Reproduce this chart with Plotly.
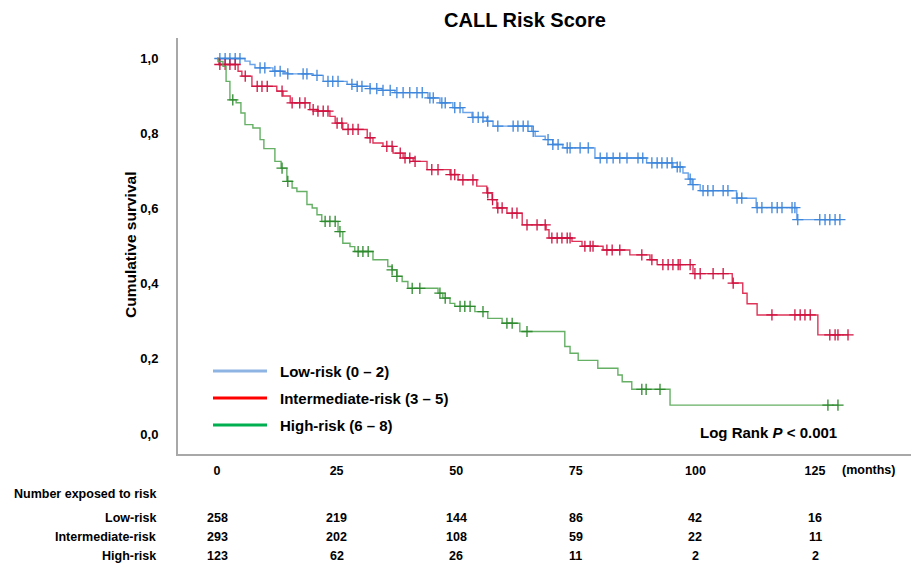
import numpy as np
import plotly.graph_objects as go

# ---------------- data ----------------
months_ticks = [0, 25, 50, 75, 100, 125]
y_ticks = [0.0, 0.2, 0.4, 0.6, 0.8, 1.0]
y_tick_text = ["0,0", "0,2", "0,4", "0,6", "0,8", "1,0"]

# Low-risk (0-2): step times (months) and survival after each step
low_t = [0, 5.85, 6.9, 7.94, 11.7, 13.8, 14.8, 20.1, 22.2, 27.2, 29.3, 32.0, 34.5, 37.2,
         44.1, 46.6, 49.3, 51.4, 53.3, 56.4, 57.7, 65.8, 66.5, 68.6, 70.2, 72.3, 79.0,
         89.8, 95.3, 97.4, 98.5, 99.3, 101.0, 108.6, 112.7, 121.2]
low_s = [1.0, 0.993, 0.984, 0.975, 0.966, 0.962, 0.959, 0.955, 0.939, 0.931, 0.926, 0.92, 0.915, 0.909,
         0.895, 0.882, 0.869, 0.856, 0.843, 0.833, 0.82, 0.806, 0.793, 0.784, 0.771, 0.762, 0.735,
         0.722, 0.711, 0.695, 0.679, 0.664, 0.648, 0.628, 0.603, 0.571]
low_end = 130.2
low_cens = [0.6, 1.7, 2.7, 3.8, 4.8, 9.0, 10.0, 12.1, 13.2, 14.8, 18.0, 18.8, 20.9, 23.2, 24.2, 25.3,
            28.2, 29.3, 30.3, 32.0, 33.4, 34.7, 36.2, 37.6, 38.9, 40.3, 41.8, 42.9, 44.5, 45.2, 47.0,
            47.7, 49.7, 50.8, 53.5, 54.6, 55.6, 56.6, 58.7, 61.9, 62.9, 64.0, 65.0, 66.1, 69.2, 70.2,
            71.3, 73.2, 73.8, 75.9, 77.6, 80.1, 81.5, 82.8, 84.2, 85.7, 88.0, 89.0, 90.9, 92.0, 93.0,
            94.1, 95.1, 96.2, 96.8, 98.9, 99.5, 101.6, 102.6, 103.7, 105.8, 106.8, 108.7, 109.7,
            112.9, 113.9, 116.0, 117.1, 118.1, 120.2, 120.8, 121.4, 126.0, 127.1, 128.1, 129.2, 130.2]

# Intermediate-risk (3-5)
int_t = [0, 0.4, 4.4, 5.2, 7.3, 12.5, 13.8, 15.3, 19.4, 20.9, 23.6, 24.7, 26.3, 31.4, 32.6, 34.7,
         36.8, 38.9, 41.0, 43.9, 48.7, 50.4, 54.3, 56.4, 57.5, 58.5, 60.6, 63.8, 68.8, 69.4, 74.2,
         76.3, 80.7, 86.3, 90.5, 92.0, 99.5, 107.7, 109.9, 110.8, 112.9, 125.6]
int_s = [1.0, 0.984, 0.966, 0.953, 0.926, 0.913, 0.9, 0.882, 0.864, 0.86, 0.846, 0.828, 0.811, 0.789,
         0.775, 0.766, 0.748, 0.735, 0.726, 0.704, 0.691, 0.677, 0.66, 0.642, 0.624, 0.602, 0.588,
         0.557, 0.544, 0.522, 0.513, 0.5, 0.49, 0.477, 0.464, 0.451, 0.427, 0.402, 0.375, 0.347,
         0.317, 0.264]
int_end = 131.9
int_cens = [0.6, 1.7, 2.7, 3.8, 5.9, 8.4, 9.4, 10.5, 13.6, 15.7, 17.3, 18.4, 20.1, 21.1, 22.2, 23.2,
            25.1, 26.1, 27.4, 28.4, 29.5, 32.0, 35.5, 36.6, 38.3, 39.3, 40.3, 41.4, 44.9, 46.2, 48.9,
            49.7, 51.4, 53.5, 56.6, 57.6, 58.7, 59.6, 61.7, 62.7, 64.8, 66.9, 68.6, 70.0, 71.1, 72.1,
            73.2, 73.8, 76.9, 78.0, 78.6, 81.5, 82.6, 84.2, 88.8, 90.9, 93.2, 94.3, 95.3, 96.4, 96.8,
            98.9, 99.9, 101.0, 103.7, 105.8, 107.9, 116.0, 120.8, 121.9, 122.9, 124.0, 128.1, 129.2,
            129.8, 131.9]

# High-risk (6-8)
high_t = [0, 0.2, 1.25, 1.9, 2.7, 4.0, 5.0, 5.85, 7.5, 9.0, 9.8, 12.1, 13.4, 14.6, 15.7, 16.7, 18.8,
          19.9, 20.9, 21.9, 25.3, 26.3, 27.8, 28.8, 32.6, 35.7, 36.6, 37.6, 38.7, 39.9, 46.2, 47.2,
          48.7, 49.7, 53.9, 56.6, 59.6, 63.3, 72.7, 73.8, 75.5, 79.6, 83.8, 84.7, 86.7, 94.7]
high_s = [1.0, 0.992, 0.979, 0.939, 0.89, 0.882, 0.855, 0.824, 0.815, 0.784, 0.76, 0.726, 0.708,
          0.673, 0.655, 0.646, 0.611, 0.602, 0.584, 0.566, 0.539, 0.508, 0.499, 0.486, 0.464, 0.446,
          0.437, 0.42, 0.406, 0.388, 0.375, 0.362, 0.348, 0.34, 0.326, 0.308, 0.295, 0.273, 0.233,
          0.215, 0.196, 0.175, 0.157, 0.139, 0.119, 0.077]
high_end = 129.8
high_cens = [3.3, 13.6, 14.8, 22.6, 23.6, 24.7, 25.7, 29.5, 30.5, 31.6, 36.6, 37.6, 40.8, 42.4,
             46.6, 47.7, 50.8, 51.8, 52.9, 55.6, 60.6, 61.7, 64.8, 88.8, 89.7, 92.6, 127.7, 129.8]

# Number at risk table
risk_groups = ["Low-risk", "Intermediate-risk", "High-risk"]
risk_low = [258, 219, 144, 86, 42, 16]
risk_int = [293, 202, 108, 59, 22, 11]
risk_high = [123, 62, 26, 11, 2, 2]

legend_labels = ["Low-risk (0 \u2013 2)", "Intermediate-risk (3 \u2013 5)", "High-risk (6 \u2013 8)"]

# ---------------- styling ----------------
W, H = 911, 564
L, R, T, B = 178, 911, 38, 454          # plot frame in pixels
FONT = "Arial, 'Liberation Sans', Helvetica, sans-serif"

line_cols = ["#5b9be6", "#dc1f47", "#55a855"]
mark_cols = ["#3d86dc", "#cf1240", "#2f8a2f"]
legend_cols = ["#8db4e2", "#ff0000", "#00b050"]


def px_x(px):
    return (px - L) / (R - L)


def px_y(py):
    return (B - py) / (B - T)


fig = go.Figure()

groups = [
    (low_t, low_s, low_end, low_cens),
    (int_t, int_s, int_end, int_cens),
    (high_t, high_s, high_end, high_cens),
]
for i, (t, s, tend, cens) in enumerate(groups):
    xs = list(t) + [tend]
    ys = list(s) + [s[-1]]
    fig.add_trace(go.Scatter(x=xs, y=ys, mode="lines", line=dict(color=line_cols[i], width=1.4, shape="hv"),
                             showlegend=False, hoverinfo="skip", opacity=0.9))
    ta = np.array(t)
    sa = np.array(s)
    idx = np.searchsorted(ta, np.array(cens), side="right") - 1
    cy = sa[idx]
    fig.add_trace(go.Scatter(x=cens, y=cy, mode="markers",
                             marker=dict(symbol="cross-thin", size=8,
                                         line=dict(color=mark_cols[i], width=1.3)),
                             showlegend=False, hoverinfo="skip"))

x_range = [(L - 217) / 4.784, (R - 217) / 4.784]
y_range = [-(B - 434) / 375.5, (434 - T) / 375.5]

fig.update_layout(
    width=W, height=H,
    margin=dict(l=L, r=W - R, t=T, b=H - B),
    paper_bgcolor="white", plot_bgcolor="white",
    showlegend=False,
    font=dict(family=FONT, color="black"),
    xaxis=dict(range=x_range, tickvals=months_ticks, ticktext=[str(m) for m in months_ticks],
               showgrid=False, zeroline=False, showline=True, linecolor="#a8a8a8", linewidth=2,
               ticks="", ticklabelstandoff=4,
               tickfont=dict(family=FONT, size=12.5, weight="bold", color="black")),
    yaxis=dict(range=y_range, tickvals=y_ticks, ticktext=y_tick_text,
               showgrid=False, zeroline=False, showline=True, linecolor="#a8a8a8", linewidth=2,
               ticks="", ticklabelstandoff=15,
               tickfont=dict(family=FONT, size=13, weight="bold", color="black")),
    title=dict(text="CALL Risk Score", x=525 / W, xanchor="center", xref="container",
               y=1 - 20 / H, yanchor="middle", yref="container",
               font=dict(family=FONT, size=20, weight="bold", color="black")),
)

ann = []
# y axis title
ann.append(dict(text="Cumulative survival", x=px_x(130), y=px_y(245), xref="paper", yref="paper",
                textangle=-90, showarrow=False, xanchor="center", yanchor="middle",
                font=dict(family=FONT, size=15.5, weight="bold")))
# months label
ann.append(dict(text="(months)", x=px_x(840), y=px_y(470), xref="paper", yref="paper",
                showarrow=False, xanchor="left", yanchor="middle",
                font=dict(family=FONT, size=12.5, weight="bold")))
# log rank
ann.append(dict(text="Log Rank <i>P</i> &lt; 0.001", x=px_x(839), y=px_y(432), xref="paper", yref="paper",
                showarrow=False, xanchor="right", yanchor="middle",
                font=dict(family=FONT, size=15, weight="bold")))
# risk table
ann.append(dict(text="Number exposed to risk", x=px_x(158), y=px_y(494), xref="paper", yref="paper",
                showarrow=False, xanchor="right", yanchor="middle",
                font=dict(family=FONT, size=12.5, weight="bold")))
row_y = [518, 537, 556]
for name, vals, ry in zip(risk_groups, [risk_low, risk_int, risk_high], row_y):
    ann.append(dict(text=name, x=px_x(158), y=px_y(ry), xref="paper", yref="paper",
                    showarrow=False, xanchor="right", yanchor="middle",
                    font=dict(family=FONT, size=12.5, weight="bold")))
    for m, v in zip(months_ticks, vals):
        ann.append(dict(text=str(v), x=m, y=px_y(ry), xref="x", yref="paper",
                        showarrow=False, xanchor="center", yanchor="middle",
                        font=dict(family=FONT, size=12.5, weight="bold")))
# legend
leg_y = [371, 398, 425]
shapes = []
for lab, col, ly in zip(legend_labels, legend_cols, leg_y):
    shapes.append(dict(type="line", xref="paper", yref="paper", x0=px_x(213), x1=px_x(267),
                       y0=px_y(ly), y1=px_y(ly), line=dict(color=col, width=3)))
    ann.append(dict(text=lab, x=px_x(278), y=px_y(ly), xref="paper", yref="paper",
                    showarrow=False, xanchor="left", yanchor="middle",
                    font=dict(family=FONT, size=15, weight="bold")))

fig.update_layout(annotations=ann, shapes=shapes)
fig.write_html("out.html", config={"displayModeBar": False},
               post_script="document.body.style.margin='0';document.body.style.overflow='hidden';")
